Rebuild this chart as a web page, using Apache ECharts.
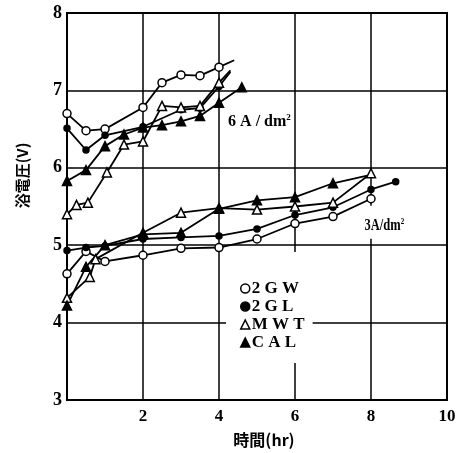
<!DOCTYPE html>
<html>
<head>
<meta charset="utf-8">
<script src="https://cdn.jsdelivr.net/npm/echarts@6/dist/echarts.min.js"></script>
<style>
html,body{margin:0;padding:0;background:#fff;}
#c{width:459px;height:453px;}
</style>
</head>
<body>
<div id="c"></div>
<script>
// ---- data (x: hours, y: volts) ----
const xTicks = [0, 2, 4, 6, 8, 10];
const yTicks = [3, 4, 5, 6, 7, 8];
const legendNames = ['2 G W', '2 G L', 'M W T', 'C A L'];

// 6 A/dm2
const gw6 = [[0,6.70],[0.5,6.48],[1,6.50],[2,6.78],[2.5,7.10],[3,7.20],[3.5,7.19],[4,7.30]];
const gw6Tail = [4.4,7.39];
const gl6 = [[0,6.51],[0.5,6.23],[1,6.42],[2,6.53],[3,6.75],[3.5,6.77],[4,7.05]];
const gl6Tail = [4.3,7.24];
const mwt6 = [[0,5.40],[0.25,5.52],[0.55,5.55],[1.05,5.94],[1.5,6.30],[2,6.34],[2.5,6.80],[3,6.78],[3.5,6.80],[4,7.10]];
const mwt6Tail = [4.3,7.26];
const cal6 = [[0,5.83],[0.5,5.97],[1,6.28],[1.5,6.43],[2,6.52],[2.5,6.55],[3,6.60],[3.5,6.67],[4,6.84],[4.6,7.04]];

// 3 A/dm2
const gw3 = [[0,4.63],[0.5,4.92],[1,4.79],[2,4.87],[3,4.96],[4,4.97],[5,5.08],[6,5.28],[7,5.37],[8,5.60]];
const gl3 = [[0,4.93],[0.5,4.97],[1,4.99],[2,5.08],[3,5.10],[4,5.12],[5,5.21],[6,5.39],[7,5.49],[8,5.72],[8.65,5.82]];
const mwt3 = [[0,4.32],[0.6,4.59],[0.75,4.82],[2,5.16],[3,5.42],[4,5.48],[5,5.46],[6,5.50],[7,5.55],[8,5.93]];
const cal3 = [[0,4.22],[0.5,4.72],[1,5.0],[2,5.14],[3,5.16],[4,5.47],[5,5.58],[6,5.62],[7,5.80]];
const cal3Tail = [7.9,5.9];

// annotation anchors (data coords)
const label6 = [4.24, 6.59];
const label3 = [7.77, 5.51];

// ---- styles ----
const SERIF = '"Liberation Serif","DejaVu Serif",serif';
const CJK = '"Noto Sans CJK JP","Noto Sans CJK SC",sans-serif';
const markStyles = {
  '2 G W': {symbol:'circle', size:8, fill:'#fff'},
  '2 G L': {symbol:'circle', size:6, fill:'#000'},
  'M W T': {symbol:'triangle', size:9, fill:'#fff'},
  'C A L': {symbol:'triangle', size:9, fill:'#000'}
};

function mk(name, pts, tail){
  const st = markStyles[name];
  const data = pts.map(p => p.slice());
  if (tail) data.push({value: tail.slice(), symbol:'none'});
  return {
    type:'line', name, data,
    symbol: st.symbol, symbolSize: st.size, showAllSymbol: true,
    lineStyle:{color:'#000', width:1.8},
    itemStyle:{color: st.fill, borderColor:'#000', borderWidth:1.5},
    emphasis:{disabled:true}, animation:false, z:3
  };
}

const series = [
  mk('2 G W', gw6, gw6Tail), mk('2 G L', gl6, gl6Tail), mk('M W T', mwt6, mwt6Tail), mk('C A L', cal6, null),
  mk('2 G W', gw3, null), mk('2 G L', gl3, null), mk('M W T', mwt3, null), mk('C A L', cal3, cal3Tail)
];

const chart = echarts.init(document.getElementById('c'), null, {renderer:'canvas'});
chart.setOption({
  animation:false,
  backgroundColor:'#fff',
  grid:{left:67, right:12, top:13, bottom:53, show:true, borderColor:'#000', borderWidth:2, backgroundColor:'transparent'},
  xAxis:{
    type:'value', min:xTicks[0], max:xTicks[xTicks.length-1], interval:2,
    axisLine:{lineStyle:{color:'#000', width:2}},
    axisTick:{show:false},
    axisLabel:{color:'#000', fontFamily:SERIF, fontWeight:'bold', fontSize:17, margin:8,
      formatter: v => v === 0 ? '' : String(v)},
    splitLine:{lineStyle:{color:'#000', width:1.5}},
    name:'時間(hr)', nameLocation:'middle', nameGap:32,
    nameTextStyle:{color:'#000', fontFamily:CJK, fontWeight:'bold', fontSize:16, padding:[0,0,0,14]}
  },
  yAxis:{
    type:'value', min:yTicks[0], max:yTicks[yTicks.length-1], interval:1,
    axisLine:{lineStyle:{color:'#000', width:2}},
    axisTick:{show:false},
    axisLabel:{color:'#000', fontFamily:SERIF, fontWeight:'bold', fontSize:18, margin:5},
    splitLine:{lineStyle:{color:'#000', width:1.5}},
    name:'浴電圧(V)', nameLocation:'middle', nameGap:37, nameRotate:90,
    nameTextStyle:{color:'#000', fontFamily:CJK, fontWeight:'bold', fontSize:15, padding:[0,0,0,62]}
  },
  legend:{
    orient:'vertical', left:226, top:252,
    backgroundColor:'#fff', padding:[28,8,12,14],
    itemWidth:9, itemHeight:9, itemGap:1,
    textStyle:{color:'#000', fontFamily:SERIF, fontWeight:'bold', fontSize:17, padding:[0,0,0,-3]},
    data: legendNames.map(n => ({
      name:n, icon: markStyles[n].symbol,
      itemStyle:{color: markStyles[n].fill, borderColor:'#000', borderWidth:1.5}
    })),
    selectedMode:false
  },
  series
});

function addLabels(){
  const p6 = chart.convertToPixel({gridIndex:0}, label6);
  const p3 = chart.convertToPixel({gridIndex:0}, label3);
  const rich = {
    a:{fontFamily:SERIF, fontWeight:'bold', fontSize:16, fill:'#000'},
    s:{fontFamily:SERIF, fontWeight:'bold', fontSize:9, fill:'#000', padding:[0,0,9,0]}
  };
  chart.setOption({graphic:[
    {type:'text', x:p6[0], y:p6[1], z:10, style:{text:'{a|6 A / dm}{s|2}', rich, verticalAlign:'middle', align:'left'}},
    {type:'text', x:p3[0], y:p3[1], z:2, scaleX:0.78, style:{text:'{a|3A/dm}{s|2}', rich, verticalAlign:'top', align:'left', backgroundColor:'#fff', padding:[11,3,4,3]}}
  ]});
}
addLabels();
</script>
</body>
</html>
